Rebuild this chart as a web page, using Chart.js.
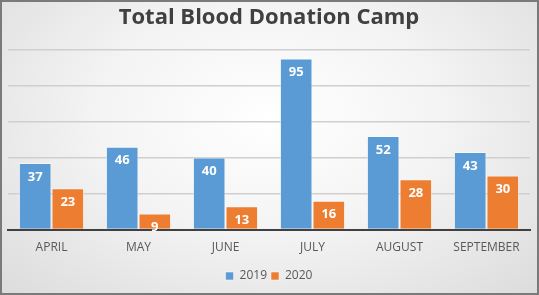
<!DOCTYPE html>
<html>
<head>
<meta charset="utf-8">
<script src="https://cdn.jsdelivr.net/npm/chart.js@4"></script>
<style>
    html, body { margin: 0; padding: 0; }
    #wrap {
        width: 535px;
        height: 291px;
        border: 2px solid #7a7a7a;
        background: radial-gradient(ellipse at 50% 40%, #ffffff 0%, #f4f4f4 45%, #dcdcdc 100%);
        position: relative;
    }
    canvas { display: block; }
</style>
</head>
<body>
<div id="wrap"><canvas id="chart" width="535" height="291"></canvas></div>
<script>
const months = ["APRIL", "MAY", "JUNE", "JULY", "AUGUST", "SEPTEMBER"];
const camps2019 = [37, 46, 40, 95, 52, 43];
const camps2020 = [23, 9, 13, 16, 28, 30];
const yTicks = [0, 20, 40, 60, 80, 100];

// etichette bianche dentro la cima delle barre
const barLabels = {
    id: "barLabels",
    afterDatasetsDraw(chart) {
        const ctx = chart.ctx;
        ctx.save();
        ctx.font = "bold 13px 'Open Sans', sans-serif";
        ctx.fillStyle = "#ffffff";
        ctx.textAlign = "center";
        ctx.textBaseline = "middle";
        chart.data.datasets.forEach((ds, i) => {
            chart.getDatasetMeta(i).data.forEach((bar, j) => {
                ctx.fillText(ds.data[j], bar.x, bar.y + 14);
            });
        });
        ctx.restore();
    }
};

new Chart(document.getElementById("chart"), {
    type: "bar",
    data: {
        labels: months,
        datasets: [
            { label: "2019", data: camps2019, backgroundColor: "#5b9bd5", borderColor: "rgba(255,255,255,0.5)", borderWidth: 1 },
            { label: "2020", data: camps2020, backgroundColor: "#ed7d31", borderColor: "rgba(255,255,255,0.5)", borderWidth: 1 }
        ]
    },
    options: {
        responsive: false,
        animation: false,
        layout: { padding: { left: 6, right: 7, top: 0, bottom: 1 } },
        datasets: { bar: { categoryPercentage: 0.75, barPercentage: 1 } },
        plugins: {
            title: {
                display: true,
                text: "Total Blood Donation Camp",
                color: "#404040",
                font: { family: "'Open Sans', sans-serif", size: 22, weight: "bold" },
                padding: { top: 3, bottom: 18 }
            },
            legend: {
                position: "bottom",
                labels: {
                    color: "#595959",
                    font: { family: "'Open Sans', sans-serif", size: 12 },
                    boxWidth: 8,
                    boxHeight: 8,
                    padding: 4
                }
            },
            tooltip: { enabled: false }
        },
        scales: {
            x: {
                grid: { display: false, drawTicks: false },
                border: { color: "#404040", width: 2 },
                ticks: {
                    color: "#595959",
                    font: { family: "'Open Sans', sans-serif", size: 12 },
                    padding: 11
                }
            },
            y: {
                min: 0,
                max: 100,
                afterBuildTicks: axis => { axis.ticks = yTicks.map(v => ({ value: v })); },
                ticks: { display: false },
                grid: { color: "#cfcfcf", lineWidth: 1.5, drawTicks: false },
                border: { display: false }
            }
        }
    },
    plugins: [barLabels]
});
</script>
</body>
</html>
